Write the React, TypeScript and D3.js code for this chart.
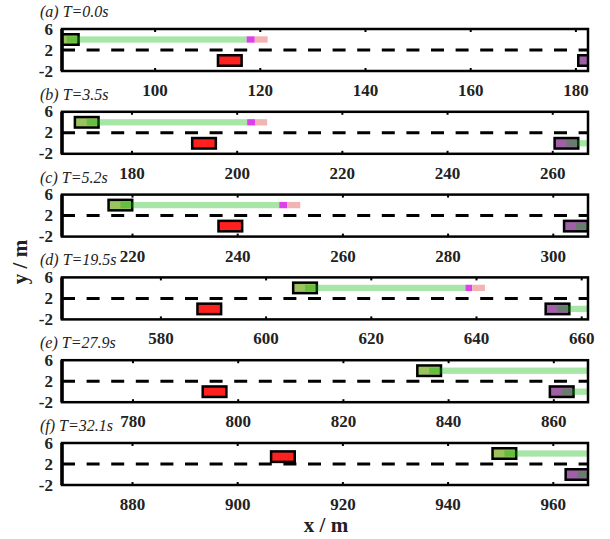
import { useEffect, useRef } from "react"
import * as d3 from "d3"

// panel titles and visible x window (start of a 100 m window)
const titles = ["(a) T=0.0s", "(b) T=3.5s", "(c) T=5.2s", "(d) T=19.5s", "(e) T=27.9s", "(f) T=32.1s"]
const xStart = [82.3, 166.7, 206.6, 561.2, 766.5, 866.6]
const xTicks = [
  [100, 120, 140, 160, 180],
  [180, 200, 220, 240, 260],
  [220, 240, 260, 280, 300],
  [580, 600, 620, 640, 660],
  [780, 800, 820, 840, 860],
  [880, 900, 920, 940, 960],
]
const yTicks = [-2, 2, 6]

// vehicle centres (m)
const greenX = [83.2, 171.4, 217.7, 607.4, 836.3, 950.7]
const greenY = [4, 4, 4, 4, 4, 4]
const redX = [114.2, 193.7, 238.6, 589.2, 795.5, 908.6]
const redY = [0, 0, 0, 0, 0, 3.4]
const purpleX = [182.7, 262.6, 304.3, 655.4, 861.5, 964.6]
const purpleY = [0, 0, 0, 0, 0, 0]

// planned path of the green car: green part, then magenta, then pink (null = runs past the view)
const greenPlanEnd = [117.4, 201.9, 247.9, 637.9, null, null]
const magentaEnd = [118.95, 203.4, 249.4, 639.2, null, null]
const pinkEnd = [121.4, 205.7, 251.9, 641.6, null, null]

const carLen = 4.5
const carWid = 2
const bandWid = 1.2

function App() {
  const ref = useRef<SVGSVGElement>(null)

  useEffect(() => {
    const svg = d3.select(ref.current)
    svg.selectAll("*").remove()

    const left = 62
    const right = 588
    const h = 42
    const font = `"Liberation Serif", serif`

    titles.forEach((title, i) => {
      const top = 29 + i * 82.8
      const x = d3.scaleLinear().domain([xStart[i], xStart[i] + 100]).range([left, right])
      const y = d3.scaleLinear().domain([-2, 6]).range([top + h, top])
      const g = svg.append("g")

      const clipId = `clip${i}`
      svg.append("clipPath").attr("id", clipId)
        .append("rect").attr("x", left).attr("y", top).attr("width", right - left).attr("height", h)

      const plot = g.append("g").attr("clip-path", `url(#${clipId})`)

      // lane divider
      plot.append("line")
        .attr("x1", left).attr("x2", right)
        .attr("y1", y(2)).attr("y2", y(2))
        .attr("stroke", "#000").attr("stroke-width", 3)
        .attr("stroke-dasharray", "13 11.6")

      const car = (cx: number, cy: number, fill: string) => {
        plot.append("rect")
          .attr("x", x(cx - carLen / 2)).attr("y", y(cy + carWid / 2))
          .attr("width", x(cx + carLen / 2) - x(cx - carLen / 2))
          .attr("height", y(cy - carWid / 2) - y(cy + carWid / 2))
          .attr("fill", fill).attr("stroke", "#000").attr("stroke-width", 2.5)
      }
      car(redX[i], redY[i], "#ff2020")
      car(greenX[i], greenY[i], "#9cc25e")
      car(purpleX[i], purpleY[i], "#a060a8")

      const band = (x0: number, x1: number, cy: number, fill: string, op: number) => {
        plot.append("rect")
          .attr("x", x(x0)).attr("y", y(cy + bandWid / 2))
          .attr("width", x(x1) - x(x0))
          .attr("height", y(cy - bandWid / 2) - y(cy + bandWid / 2))
          .attr("fill", fill).attr("fill-opacity", op)
      }
      const farEnd = xStart[i] + 120
      const gEnd = greenPlanEnd[i]
      band(greenX[i], gEnd ?? farEnd, greenY[i], "#00b500", 0.34)
      if (gEnd != null) {
        band(gEnd, magentaEnd[i]!, greenY[i], "#dd3fe8", 1)
        band(magentaEnd[i]!, pinkEnd[i]!, greenY[i], "#f2b3b3", 1)
      }
      band(purpleX[i], farEnd, purpleY[i], "#00b500", 0.34)

      // ticks
      xTicks[i].forEach(t => {
        g.append("line").attr("x1", x(t)).attr("x2", x(t)).attr("y1", top).attr("y2", top + 3)
          .attr("stroke", "#000").attr("stroke-width", 2)
        g.append("line").attr("x1", x(t)).attr("x2", x(t)).attr("y1", top + h).attr("y2", top + h - 3)
          .attr("stroke", "#000").attr("stroke-width", 2)
        g.append("text").attr("x", x(t)).attr("y", top + h + 25)
          .attr("text-anchor", "middle").style("font-family", font)
          .attr("font-weight", "bold").attr("font-size", 17).attr("fill", "#222")
          .text(t)
      })
      yTicks.forEach(t => {
        g.append("text").attr("x", 53).attr("y", y(t) + 5.5)
          .attr("text-anchor", "end").style("font-family", font)
          .attr("font-weight", "bold").attr("font-size", 17).attr("fill", "#222")
          .text(t)
      })

      // frame
      g.append("rect").attr("x", left).attr("y", top).attr("width", right - left).attr("height", h)
        .attr("fill", "none").attr("stroke", "#000").attr("stroke-width", 2.5)
      g.append("line").attr("x1", left).attr("x2", left).attr("y1", top).attr("y2", top + h)
        .attr("stroke", "#000").attr("stroke-width", 3.5)

      g.append("text").attr("x", 40).attr("y", top - 12)
        .style("font-family", font).attr("font-style", "italic").attr("font-size", 16).attr("fill", "#222")
        .text(title)
    })

    svg.append("text")
      .attr("transform", "translate(27,262) rotate(-90)")
      .attr("text-anchor", "middle").style("font-family", font)
      .attr("font-weight", "bold").attr("font-size", 21).attr("fill", "#222")
      .text("y / m")
    svg.append("text")
      .attr("x", 326).attr("y", 532)
      .attr("text-anchor", "middle").style("font-family", font)
      .attr("font-weight", "bold").attr("font-size", 21).attr("fill", "#222")
      .text("x / m")
  }, [])

  return (
    <svg ref={ref} width={610} height={539}
      style={{ position: "absolute", left: 0, top: 0, background: "#fff" }} />
  )
}

export default App
